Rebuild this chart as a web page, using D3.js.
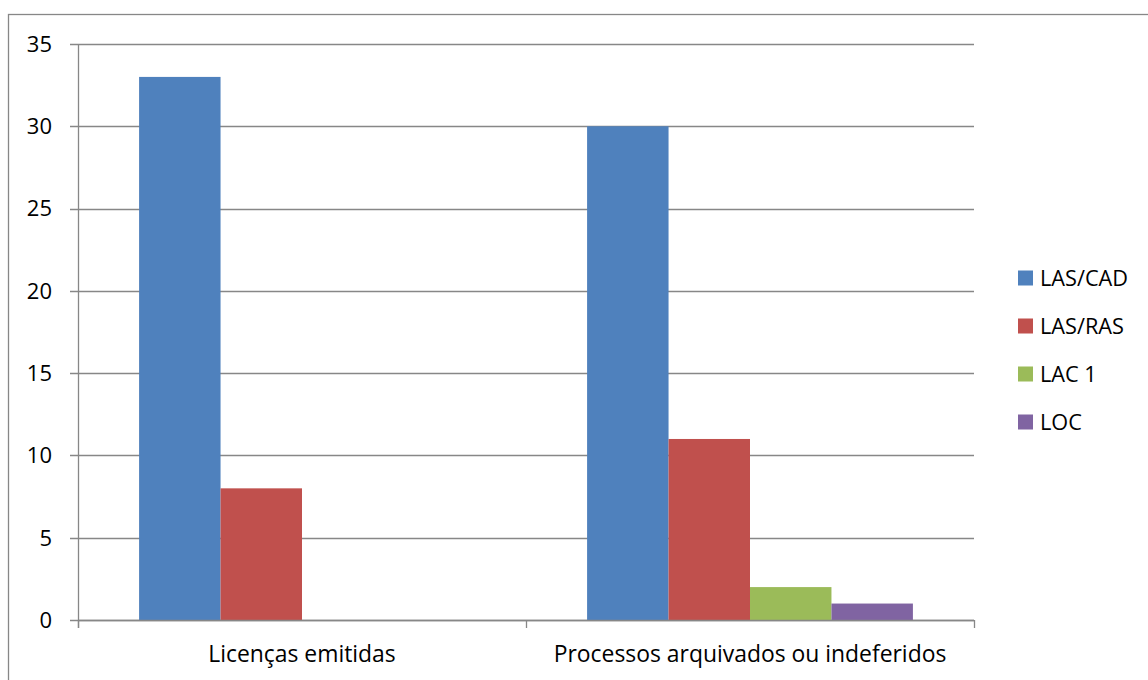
<!DOCTYPE html>
<html>
<head>
<meta charset="utf-8">
<script src="https://cdn.jsdelivr.net/npm/d3@7"></script>
<style>
  html, body { margin: 0; padding: 0; background: #fff; }
  svg { display: block; font-family: "Open Sans", sans-serif; }
</style>
</head>
<body>
<svg id="chart" width="1148" height="680"></svg>
<script>
// Chart data
const categories = ["Licenças emitidas", "Processos arquivados ou indeferidos"];
const seriesNames = ["LAS/CAD", "LAS/RAS", "LAC 1", "LOC"];
const seriesColors = ["#4F81BD", "#C0504D", "#9BBB59", "#8064A2"];
const valuesLASCAD = [33, 30];
const valuesLASRAS = [8, 11];
const valuesLAC1 = [0, 2];
const valuesLOC = [0, 1];
const yTicks = [0, 5, 10, 15, 20, 25, 30, 35];

const seriesValues = [valuesLASCAD, valuesLASRAS, valuesLAC1, valuesLOC];

const svg = d3.select("#chart");
const plot = { left: 78, right: 974, top: 44, bottom: 620 };
const gridColor = "#878787";

// Outer frame
svg.append("rect")
  .attr("x", 8.5).attr("y", 14.5)
  .attr("width", 1200).attr("height", 800)
  .attr("fill", "none").attr("stroke", gridColor).attr("stroke-width", 1.3);

const y = d3.scaleLinear().domain([0, 35]).range([plot.bottom, plot.top]);
const x0 = d3.scaleBand().domain(categories).range([plot.left, plot.right]).padding(0);
const x1 = d3.scaleBand().domain(seriesNames).range([0, x0.bandwidth()])
  .paddingInner(0).paddingOuter(0.75);

// Horizontal gridlines with left tick marks
svg.append("g").selectAll("line").data(yTicks).join("line")
  .attr("x1", plot.left - 8).attr("x2", plot.right)
  .attr("y1", d => Math.round(y(d)) + 0.5).attr("y2", d => Math.round(y(d)) + 0.5)
  .attr("stroke", gridColor).attr("stroke-width", 1.3);

// Y tick labels
svg.append("g").selectAll("text").data(yTicks).join("text")
  .attr("x", 52).attr("y", d => y(d))
  .attr("dy", "0.36em")
  .attr("text-anchor", "end")
  .attr("font-size", 22)
  .attr("fill", "#000")
  .text(d => d);

// Bars
const rows = [];
categories.forEach((c, ci) => {
  seriesNames.forEach((s, si) => {
    rows.push({ cat: c, series: s, value: seriesValues[si][ci], color: seriesColors[si] });
  });
});
svg.append("g").selectAll("rect").data(rows.filter(d => d.value > 0)).join("rect")
  .attr("x", d => x0(d.cat) + x1(d.series))
  .attr("y", d => y(d.value))
  .attr("width", x1.bandwidth())
  .attr("height", d => y(0) - y(d.value))
  .attr("fill", d => d.color);

// Axis lines
svg.append("line")
  .attr("x1", plot.left + 0.5).attr("x2", plot.left + 0.5)
  .attr("y1", plot.top).attr("y2", plot.bottom + 8)
  .attr("stroke", gridColor).attr("stroke-width", 1.3);
svg.append("line")
  .attr("x1", plot.left).attr("x2", plot.right)
  .attr("y1", plot.bottom + 0.5).attr("y2", plot.bottom + 0.5)
  .attr("stroke", gridColor).attr("stroke-width", 1.3);

// Category boundary ticks
const boundaries = categories.map(c => x0(c)).concat([plot.right]);
svg.append("g").selectAll("line").data(boundaries).join("line")
  .attr("x1", d => d + 0.5).attr("x2", d => d + 0.5)
  .attr("y1", plot.bottom).attr("y2", plot.bottom + 8)
  .attr("stroke", gridColor).attr("stroke-width", 1.3);

// Category labels
svg.append("g").selectAll("text").data(categories).join("text")
  .attr("x", d => x0(d) + x0.bandwidth() / 2)
  .attr("y", 662)
  .attr("text-anchor", "middle")
  .attr("font-size", 22.9)
  .attr("fill", "#000")
  .text(d => d);

// Legend
const legend = svg.append("g").selectAll("g").data(seriesNames).join("g")
  .attr("transform", (d, i) => `translate(1018, ${278 + i * 48})`);
legend.append("rect")
  .attr("x", 0).attr("y", -7.5).attr("width", 15).attr("height", 15)
  .attr("fill", (d, i) => seriesColors[i]);
legend.append("text")
  .attr("x", 22).attr("y", 0).attr("dy", "0.36em")
  .attr("font-size", 21.7)
  .attr("fill", "#000")
  .text(d => d);
</script>
</body>
</html>
